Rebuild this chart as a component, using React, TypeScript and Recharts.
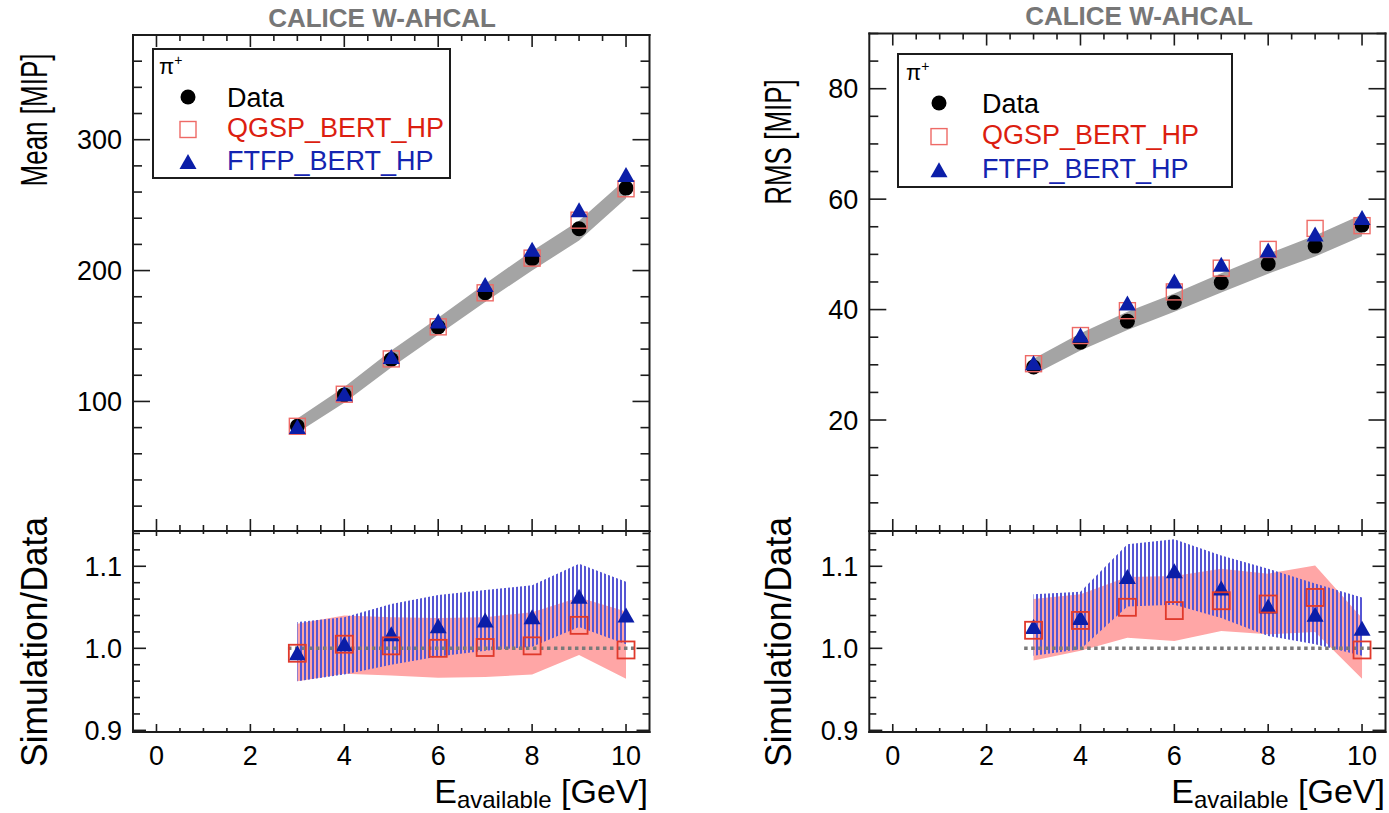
import React from "react";
import {
  ComposedChart,
  XAxis,
  YAxis,
  Area,
  Scatter,
  ReferenceLine,
  Legend,
} from "recharts";

// beam energies (GeV)
const ENERGY = [3, 4, 5, 6, 7, 8, 9, 10];

// mean visible energy [MIP]
const MEAN_DATA = [81, 105, 132, 157, 183, 209, 232, 263];
const MEAN_SYS_LO = [76, 99, 126, 151, 176, 200, 223, 255];
const MEAN_SYS_HI = [87, 111, 139, 164, 190, 215, 238, 270];
const MEAN_QGSP = [81, 105.5, 132.5, 157, 183, 209.5, 238.5, 262.5];
const MEAN_FTFP = [80.5, 105.5, 134, 161, 189, 216, 246, 273];

// RMS [MIP]
const RMS_DATA = [29.6, 34.1, 37.9, 41.3, 44.9, 48.3, 51.5, 55.3];
const RMS_SYS_LO = [28.2, 32.6, 36.3, 39.6, 43.1, 46.5, 49.6, 53.3];
const RMS_SYS_HI = [31.1, 35.7, 39.6, 42.9, 46.6, 50.1, 53.4, 57.2];
const RMS_QGSP = [30.2, 35.3, 39.8, 43.2, 47.5, 50.9, 54.7, 55.2];
const RMS_FTFP = [30.3, 35.3, 41.1, 45.1, 48.1, 50.7, 53.6, 56.6];

// simulation / data, mean
const MEAN_R_QGSP = [0.994, 1.005, 1.003, 1.0, 1.001, 1.003, 1.028, 0.998];
const MEAN_R_QGSP_LO = [0.96, 0.969, 0.967, 0.964, 0.965, 0.968, 0.992, 0.963];
const MEAN_R_QGSP_HI = [1.03, 1.04, 1.038, 1.037, 1.038, 1.044, 1.062, 1.045];
const MEAN_R_FTFP = [0.994, 1.005, 1.017, 1.027, 1.034, 1.038, 1.063, 1.04];
const MEAN_R_FTFP_LO = [0.96, 0.968, 0.98, 0.99, 0.997, 1.002, 1.026, 1.005];
const MEAN_R_FTFP_HI = [1.032, 1.038, 1.054, 1.065, 1.071, 1.077, 1.103, 1.081];

// simulation / data, RMS
const RMS_R_QGSP = [1.022, 1.034, 1.05, 1.046, 1.058, 1.054, 1.062, 0.998];
const RMS_R_QGSP_LO = [0.985, 0.997, 1.013, 1.009, 1.021, 1.017, 1.02, 0.963];
const RMS_R_QGSP_HI = [1.06, 1.066, 1.087, 1.088, 1.097, 1.091, 1.101, 1.037];
const RMS_R_FTFP = [1.026, 1.037, 1.087, 1.094, 1.073, 1.051, 1.041, 1.024];
const RMS_R_FTFP_LO = [0.991, 0.999, 1.051, 1.053, 1.037, 1.015, 1.005, 0.991];
const RMS_R_FTFP_HI = [1.066, 1.069, 1.127, 1.133, 1.113, 1.097, 1.079, 1.062];

// axes
const X_DOMAIN: [number, number] = [-0.5, 10.5];
const X_TICKS = [0, 0.5, 1, 1.5, 2, 2.5, 3, 3.5, 4, 4.5, 5, 5.5, 6, 6.5, 7, 7.5, 8, 8.5, 9, 9.5, 10];
const X_LABELS = [0, 2, 4, 6, 8, 10];
const MEAN_DOMAIN: [number, number] = [1, 380];
const MEAN_TICKS = [20, 40, 60, 80, 100, 120, 140, 160, 180, 200, 220, 240, 260, 280, 300, 320, 340, 360, 380];
const MEAN_LABELS = [100, 200, 300];
const RMS_DOMAIN: [number, number] = [-0.1, 90];
const RMS_TICKS = [5, 10, 15, 20, 25, 30, 35, 40, 45, 50, 55, 60, 65, 70, 75, 80, 85, 90];
const RMS_LABELS = [20, 40, 60, 80];
const RATIO_DOMAIN: [number, number] = [0.898, 1.143];
const RATIO_TICKS = [0.9, 0.92, 0.94, 0.96, 0.98, 1.0, 1.02, 1.04, 1.06, 1.08, 1.1, 1.12, 1.14];
const RATIO_LABELS = [0.9, 1.0, 1.1];
const UNITY_RANGE = [2.8, 10.2];

const SERIES_NAMES = ["Data", "QGSP_BERT_HP", "FTFP_BERT_HP"];

const FONT = '"Liberation Sans", Arial, Helvetica, sans-serif';
const INK = "#1c1c1c";
const BLUE = "#0b1ea8";
const RED_LIGHT = "#ee6a66";
const RED = "#e0392b";
const PINK = "#ffa6a6";
const HATCH = "#5656d4";
const SYS_GREY = "#a4a4a4";
const FRAME = { stroke: INK, strokeWidth: 2, strokeLinecap: "square" as const };

const meanRows = ENERGY.map((e, i) => ({
  e,
  data: MEAN_DATA[i],
  sys: [MEAN_SYS_LO[i], MEAN_SYS_HI[i]],
  qgsp: MEAN_QGSP[i],
  ftfp: MEAN_FTFP[i],
}));
const rmsRows = ENERGY.map((e, i) => ({
  e,
  data: RMS_DATA[i],
  sys: [RMS_SYS_LO[i], RMS_SYS_HI[i]],
  qgsp: RMS_QGSP[i],
  ftfp: RMS_FTFP[i],
}));
const meanRatioRows = ENERGY.map((e, i) => ({
  e,
  qgsp: MEAN_R_QGSP[i],
  ftfp: MEAN_R_FTFP[i],
  qgspBand: [MEAN_R_QGSP_LO[i], MEAN_R_QGSP_HI[i]],
  ftfpBand: [MEAN_R_FTFP_LO[i], MEAN_R_FTFP_HI[i]],
}));
const rmsRatioRows = ENERGY.map((e, i) => ({
  e,
  qgsp: RMS_R_QGSP[i],
  ftfp: RMS_R_FTFP[i],
  qgspBand: [RMS_R_QGSP_LO[i], RMS_R_QGSP_HI[i]],
  ftfpBand: [RMS_R_FTFP_LO[i], RMS_R_FTFP_HI[i]],
}));

const isIn = (list: number[], v: number) => list.some((m) => Math.abs(m - v) < 1e-6);

// ROOT-style inward ticks; x/y arrive on the frame edge (tickSize 0)
function xTick(dir: number, maj: number, min: number, labels: boolean) {
  return (p: any) => {
    const v = p.payload.value;
    const major = isIn(X_LABELS, v);
    return (
      <g>
        <line x1={p.x} x2={p.x} y1={p.y} y2={p.y + dir * (major ? maj : min)} stroke={INK} strokeWidth={1.6} />
        {labels && major ? (
          <text x={p.x} y={p.y + 33} textAnchor="middle" fontSize={27} fontFamily={FONT} fill="#000">
            {v}
          </text>
        ) : null}
      </g>
    );
  };
}

function yTick(dir: number, maj: number, min: number, majors: number[], labels: boolean, digits: number) {
  return (p: any) => {
    const v = p.payload.value;
    const major = isIn(majors, v);
    return (
      <g>
        <line x1={p.x} x2={p.x + dir * (major ? maj : min)} y1={p.y} y2={p.y} stroke={INK} strokeWidth={1.6} />
        {labels && major ? (
          <text x={p.x - 11} y={p.y} dy="0.36em" textAnchor="end" fontSize={27} fontFamily={FONT} fill="#000">
            {v.toFixed(digits)}
          </text>
        ) : null}
      </g>
    );
  };
}

type FrameOpt = {
  yDomain: [number, number];
  yTicks: number[];
  yMajors: number[];
  digits: number;
  xb: [number, number];
  xt: [number, number];
  y: [number, number];
  xLabels: boolean;
};

// axes are 1px thick (an axis of size 0 is not drawn); margins are trimmed by 1 to match
function frameAxes(o: FrameOpt) {
  const common = {
    type: "number" as const,
    allowDataOverflow: true,
    interval: 0 as const,
    tickSize: 0,
    tickMargin: 0,
    tickLine: false,
    axisLine: FRAME,
  };
  return [
    <XAxis key="xb" xAxisId="b" dataKey="e" domain={X_DOMAIN} ticks={X_TICKS} height={1} tick={xTick(-1, o.xb[0], o.xb[1], o.xLabels)} {...common} />,
    <XAxis key="xt" xAxisId="t" orientation="top" dataKey="e" domain={X_DOMAIN} ticks={X_TICKS} height={1} tick={xTick(1, o.xt[0], o.xt[1], false)} {...common} />,
    <YAxis key="yl" yAxisId="l" domain={o.yDomain} ticks={o.yTicks} width={1} tick={yTick(1, o.y[0], o.y[1], o.yMajors, true, o.digits)} {...common} />,
    <YAxis key="yr" yAxisId="r" orientation="right" domain={o.yDomain} ticks={o.yTicks} width={1} tick={yTick(-1, o.y[0], o.y[1], o.yMajors, false, o.digits)} {...common} />,
  ];
}

const dot = (p: any) => <circle cx={p.cx} cy={p.cy} r={7.5} fill="#000" />;
const square = (color: string, s: number, w: number) => (p: any) =>
  <rect x={p.cx - s / 2} y={p.cy - s / 2} width={s} height={s} fill="none" stroke={color} strokeWidth={w} />;
const triangle = (p: any) => (
  <polygon
    points={`${p.cx},${p.cy - 8} ${p.cx - 8.5},${p.cy + 7} ${p.cx + 8.5},${p.cy + 7}`}
    fill={BLUE}
  />
);

type LegendLayout = {
  w: number;
  h: number;
  pi: [number, number];
  mx: number;
  tx: number;
  rows: number[];
  base: number[];
};

function LegendBox({ w, h, pi, mx, tx, rows, base }: LegendLayout) {
  const colors = ["#000", "#dc1e10", "#1424b0"];
  return (
    <svg width={w} height={h} style={{ display: "block" }}>
      <rect x={1} y={1} width={w - 2} height={h - 2} fill="#fff" stroke={INK} strokeWidth={2} />
      <text x={pi[0]} y={pi[1]} fontSize={22} fontFamily={FONT} fill="#000">
        π<tspan dy={-9} fontSize={14}>+</tspan>
      </text>
      <circle cx={mx} cy={rows[0]} r={7.5} fill="#000" />
      <rect x={mx - 8} y={rows[1] - 8} width={16} height={16} fill="none" stroke={RED_LIGHT} strokeWidth={1.4} />
      <polygon points={`${mx},${rows[2] - 8} ${mx - 8.5},${rows[2] + 7} ${mx + 8.5},${rows[2] + 7}`} fill={BLUE} />
      {SERIES_NAMES.map((n, i) => (
        <text key={n} x={tx} y={base[i]} fontSize={27} fontFamily={FONT} fill={colors[i]}>
          {n}
        </text>
      ))}
    </svg>
  );
}

const LEG_L: LegendLayout = { w: 299, h: 131, pi: [7, 26], mx: 36, tx: 75, rows: [49, 81.5, 114], base: [59, 89, 122] };
const LEG_R: LegendLayout = { w: 336, h: 135, pi: [9, 27], mx: 42, tx: 85, rows: [50, 83.6, 117.3], base: [60, 91, 125] };

function UpperPanel({ rows, yDomain, yTicks, yMajors, legend, legendPos, width, margin }: any) {
  return (
    <ComposedChart width={width} height={532} data={rows} margin={margin}>
      {frameAxes({ yDomain, yTicks, yMajors, digits: 0, xb: [12, 6], xt: [12, 6], y: [17, 9], xLabels: false })}
      <Area xAxisId="b" yAxisId="l" type="linear" dataKey="sys" stroke="none" fill={SYS_GREY} fillOpacity={1} isAnimationActive={false} activeDot={false} />
      <Scatter xAxisId="b" yAxisId="l" dataKey="data" name={SERIES_NAMES[0]} shape={dot} isAnimationActive={false} />
      <Scatter xAxisId="b" yAxisId="l" dataKey="qgsp" name={SERIES_NAMES[1]} shape={square(RED_LIGHT, 16, 1.4)} isAnimationActive={false} />
      <Scatter xAxisId="b" yAxisId="l" dataKey="ftfp" name={SERIES_NAMES[2]} shape={triangle} isAnimationActive={false} />
      <Legend
        layout="vertical"
        align="center"
        verticalAlign="middle"
        wrapperStyle={{ left: legendPos[0], top: legendPos[1], width: legend.w, height: legend.h }}
        content={() => <LegendBox {...legend} />}
      />
    </ComposedChart>
  );
}

function RatioPanel({ rows, hatchId, width, margin }: any) {
  return (
    <ComposedChart width={width} height={282} data={rows} margin={margin}>
      <defs>
        <pattern id={hatchId} patternUnits="userSpaceOnUse" width={4} height={8}>
          <rect x={0} y={0} width={2} height={8} fill={HATCH} />
        </pattern>
      </defs>
      {frameAxes({ yDomain: RATIO_DOMAIN, yTicks: RATIO_TICKS, yMajors: RATIO_LABELS, digits: 1, xb: [8, 4], xt: [5, 3], y: [13, 7], xLabels: true })}
      <Area xAxisId="b" yAxisId="l" type="linear" dataKey="qgspBand" stroke="none" fill={PINK} fillOpacity={1} isAnimationActive={false} activeDot={false} />
      <Area xAxisId="b" yAxisId="l" type="linear" dataKey="ftfpBand" stroke="none" fill={`url(#${hatchId})`} fillOpacity={1} isAnimationActive={false} activeDot={false} />
      <ReferenceLine
        xAxisId="b"
        yAxisId="l"
        segment={[{ x: UNITY_RANGE[0], y: 1 }, { x: UNITY_RANGE[1], y: 1 }]}
        stroke="#7a7a7a"
        strokeWidth={3.5}
        strokeDasharray="3.5 3.5"
        ifOverflow="visible"
      />
      <Scatter xAxisId="b" yAxisId="l" dataKey="ftfp" shape={triangle} isAnimationActive={false} />
      <Scatter xAxisId="b" yAxisId="l" dataKey="qgsp" shape={square(RED, 17, 1.8)} isAnimationActive={false} />
    </ComposedChart>
  );
}

const txt = { fontFamily: FONT, fill: "#000" };

export default function App() {
  return (
    <div style={{ position: "absolute", left: 0, top: 0, width: 1389, height: 813, background: "#fff", fontFamily: FONT }}>
      <div style={{ position: "absolute", left: 0, top: 0 }}>
        <UpperPanel
          rows={meanRows}
          yDomain={MEAN_DOMAIN}
          yTicks={MEAN_TICKS}
          yMajors={MEAN_LABELS}
          legend={LEG_L}
          legendPos={[152, 48]}
          width={700}
          margin={{ top: 34, right: 49.5, bottom: 0, left: 132 }}
        />
      </div>
      <div style={{ position: "absolute", left: 0, top: 531 }}>
        <RatioPanel rows={meanRatioRows} hatchId="hatchL" width={700} margin={{ top: -1, right: 49.5, bottom: 80, left: 132 }} />
      </div>
      <div style={{ position: "absolute", left: 700, top: 0 }}>
        <UpperPanel
          rows={rmsRows}
          yDomain={RMS_DOMAIN}
          yTicks={RMS_TICKS}
          yMajors={RMS_LABELS}
          legend={LEG_R}
          legendPos={[197, 53]}
          width={689}
          margin={{ top: 32.5, right: 2.5, bottom: 0, left: 168.3 }}
        />
      </div>
      <div style={{ position: "absolute", left: 700, top: 531 }}>
        <RatioPanel rows={rmsRatioRows} hatchId="hatchR" width={689} margin={{ top: -1, right: 2.5, bottom: 80, left: 168.3 }} />
      </div>
      <svg width={1389} height={813} style={{ position: "absolute", left: 0, top: 0, pointerEvents: "none" }}>
        <text x={382} y={27} textAnchor="middle" fontSize={26} fontWeight="bold" fontFamily={FONT} fill="#777">
          CALICE W-AHCAL
        </text>
        <text x={1139} y={25} textAnchor="middle" fontSize={26} fontWeight="bold" fontFamily={FONT} fill="#777">
          CALICE W-AHCAL
        </text>
        <text transform="translate(47,120) rotate(-90) scale(1,1.4)" textAnchor="middle" fontSize={26} {...txt}>
          Mean [MIP]
        </text>
        <text transform="translate(47,642) rotate(-90) scale(1,1.4)" textAnchor="middle" fontSize={26} textLength={250} lengthAdjust="spacingAndGlyphs" {...txt}>
          Simulation/Data
        </text>
        <text transform="translate(791,142) rotate(-90) scale(1,1.4)" textAnchor="middle" fontSize={26} {...txt}>
          RMS [MIP]
        </text>
        <text transform="translate(791,642) rotate(-90) scale(1,1.4)" textAnchor="middle" fontSize={26} textLength={250} lengthAdjust="spacingAndGlyphs" {...txt}>
          Simulation/Data
        </text>
        <text x={648} y={803} textAnchor="end" fontSize={34} {...txt}>
          E<tspan fontSize={24} dy={5}>available</tspan>
          <tspan dy={-5}> [GeV]</tspan>
        </text>
        <text x={1385} y={803} textAnchor="end" fontSize={34} {...txt}>
          E<tspan fontSize={24} dy={5}>available</tspan>
          <tspan dy={-5}> [GeV]</tspan>
        </text>
      </svg>
    </div>
  );
}
